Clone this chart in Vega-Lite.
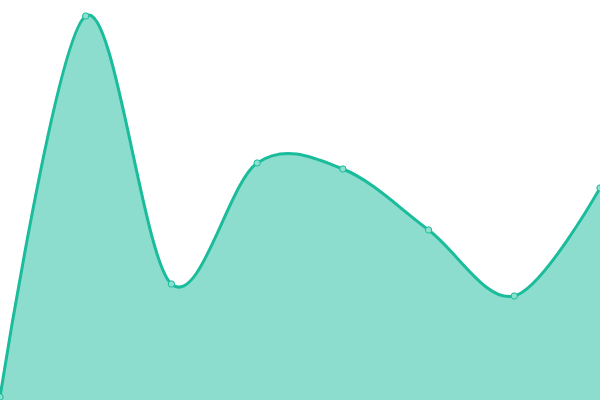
{
  "$schema": "https://vega.github.io/schema/vega-lite/v6.json",
  "width": 600,
  "height": 400,
  "autosize": {"type": "none"},
  "padding": 0,
  "config": {"view": {"stroke": null}},
  "data": {
    "values": [
      {"i": 0, "v": 3},
      {"i": 1, "v": 384},
      {"i": 2, "v": 116},
      {"i": 3, "v": 237},
      {"i": 4, "v": 231},
      {"i": 5, "v": 170},
      {"i": 6, "v": 104},
      {"i": 7, "v": 212}
    ]
  },
  "encoding": {
    "x": {"field": "i", "type": "quantitative", "axis": null, "scale": {"domain": [0, 7], "nice": false, "zero": false}},
    "y": {"field": "v", "type": "quantitative", "axis": null, "scale": {"domain": [0, 400], "nice": false}}
  },
  "layer": [
    {
      "mark": {"type": "area", "interpolate": "cardinal", "color": "#1abc9c", "fillOpacity": 0.5}
    },
    {
      "mark": {"type": "line", "interpolate": "cardinal", "color": "#1abc9c", "strokeWidth": 3}
    },
    {
      "mark": {"type": "point", "filled": true, "fill": "#8ce0cf", "stroke": "#1abc9c", "strokeWidth": 1, "size": 40, "opacity": 1}
    }
  ]
}
